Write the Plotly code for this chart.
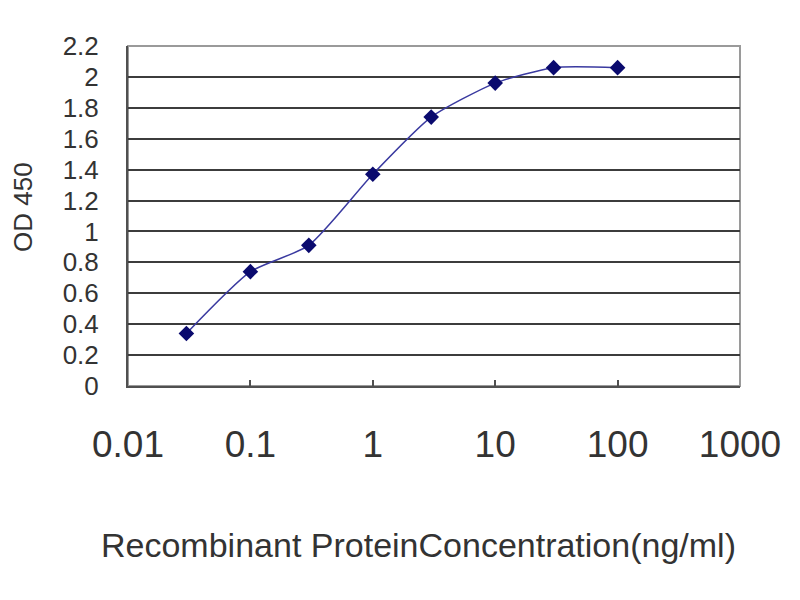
"""
Curva estándar ELISA: OD 450 vs concentración de proteína recombinante.
"""
import plotly.graph_objects as go

# datos
conc_ng_ml = [0.03, 0.1, 0.3, 1, 3, 10, 30, 100]
od_450 = [0.34, 0.74, 0.91, 1.37, 1.74, 1.96, 2.06, 2.06]

x_ticks = [0.01, 0.1, 1, 10, 100, 1000]
x_tick_text = ["0.01", "0.1", "1", "10", "100", "1000"]
y_ticks = [0, 0.2, 0.4, 0.6, 0.8, 1, 1.2, 1.4, 1.6, 1.8, 2, 2.2]

fig = go.Figure()
fig.add_trace(go.Scatter(
    x=conc_ng_ml, y=od_450, mode="lines+markers",
    line=dict(color="#3a3aa0", width=1.5, shape="spline", smoothing=0.6),
    marker=dict(symbol="diamond", size=12, color="#0a0a6e"),
    showlegend=False,
))

# marco gris del área de trazado
fig.add_shape(type="rect", xref="paper", yref="paper", x0=0, y0=0, x1=1, y1=1,
              line=dict(color="#9a9a9a", width=2), layer="below")

font = "Liberation Sans, Arial, sans-serif"
fig.update_xaxes(
    type="log", range=[-2, 3], tickvals=x_ticks, ticktext=x_tick_text,
    showgrid=False, zeroline=False, automargin=False,
    showline=True, linecolor="#505050", linewidth=2,
    ticks="inside", ticklen=6, tickwidth=2, tickcolor="#505050",
    ticklabelstandoff=25,
    tickfont=dict(size=37, color="#333333", family=font),
)
fig.update_yaxes(
    range=[0, 2.2], tickvals=y_ticks,
    showgrid=True, gridcolor="#3c3c3c", gridwidth=2, zeroline=False,
    automargin=False,
    showline=True, linecolor="#505050", linewidth=2,
    ticks="", ticklabelstandoff=22,
    tickfont=dict(size=26, color="#333333", family=font),
)

# títulos de ejes (posiciones en fracción del área de trazado)
fig.add_annotation(text="Recombinant ProteinConcentration(ng/ml)",
                   xref="paper", yref="paper", x=(418 - 128) / 612, y=-(545 - 386) / 340,
                   showarrow=False, xanchor="center", yanchor="middle",
                   font=dict(size=34, color="#333333", family=font))
fig.add_annotation(text="OD 450", textangle=-90,
                   xref="paper", yref="paper", x=-(128 - 23) / 612, y=(386 - 207) / 340,
                   showarrow=False, xanchor="center", yanchor="middle",
                   font=dict(size=26, color="#333333", family=font))

fig.update_layout(
    width=800, height=600,
    margin=dict(l=120, r=68, t=38, b=222),
    plot_bgcolor="white", paper_bgcolor="white",
)
fig.write_html("out.html")
